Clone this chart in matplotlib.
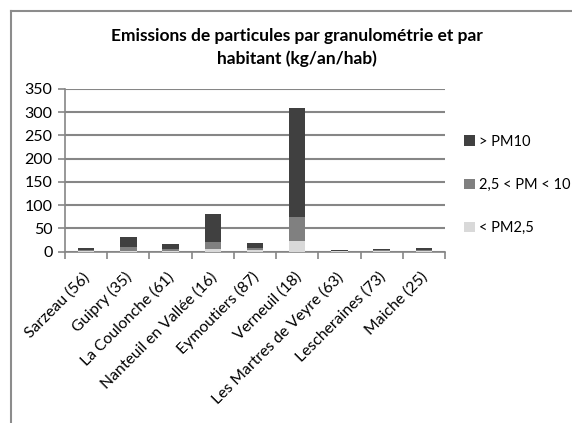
import numpy as np
import matplotlib.pyplot as plt
from matplotlib.lines import Line2D

communes = ['Sarzeau (56)', 'Guipry (35)', 'La Coulonche (61)', 'Nanteuil en Vallée (16)',
            'Eymoutiers (87)', 'Verneuil (18)', 'Les Martres de Veyre (63)',
            'Lescheraines (73)', 'Maiche (25)']
pm25 = [1, 2, 1.5, 5, 3, 23, 0.5, 1, 1.5]          # < PM2,5
pm25_10 = [2, 8, 4, 15, 5, 52, 1, 2, 3]            # 2,5 < PM < 10
pm10 = [6, 22, 10, 62, 11.5, 234, 1.5, 2.5, 2.5]    # > PM10

plt.rcParams['font.family'] = ['Lato', 'DejaVu Sans']

fig = plt.figure(figsize=(5.72, 4.23), dpi=100)
ax = fig.add_axes([0.1136, 0.405, 0.778 - 0.1136, 0.7896 - 0.405])

x = np.arange(len(communes))
w = 0.39
ax.bar(x, pm25, w, color='#d9d9d9', label='< PM2,5', zorder=3)
ax.bar(x, pm25_10, w, bottom=pm25, color='#808080', label='2,5 < PM < 10', zorder=3)
bas = np.array(pm25) + np.array(pm25_10)
ax.bar(x, pm10, w, bottom=bas, color='#404040', label='> PM10', zorder=3)

ax.set_xlim(-0.5, len(communes) - 0.5)
ax.set_ylim(0, 350)
ax.set_yticks(range(0, 351, 50))
ax.yaxis.grid(True, color='#868686', linewidth=1.5, zorder=0)
for s in ['top', 'right']:
    ax.spines[s].set_visible(False)
ax.spines['left'].set_color('#868686')
ax.spines['bottom'].set_color('#868686')
ax.spines['left'].set_linewidth(1.2)
ax.spines['bottom'].set_linewidth(1.2)

# ticks aux bornes des categories, comme Excel
ax.set_xticks(np.arange(-0.5, len(communes), 1))
ax.set_xticklabels([])
ax.tick_params(axis='x', length=5, color='#868686', width=1.2)
ax.tick_params(axis='y', length=5, color='#868686', width=1.2, labelsize=11.5, pad=4)
for i, nom in enumerate(communes):
    ax.text(i + 0.04, -50, nom, rotation=45, rotation_mode='anchor',
            ha='right', va='center', fontsize=11.3)

ax.set_title('Emissions de particules par granulométrie et par\nhabitant (kg/an/hab)',
             fontsize=12.5, fontweight='bold', pad=18, x=0.61, linespacing=1.5)

h, l = ax.get_legend_handles_labels()
fig.legend(h[::-1], l[::-1], loc='center left', bbox_to_anchor=(0.812, 0.563),
           frameon=False, fontsize=10.5, handlelength=0.7, handleheight=0.7,
           handletextpad=0.3, labelspacing=2.0, borderpad=0, borderaxespad=0)

# cadre du graphique
fig.add_artist(Line2D([11 / 572, 11 / 572], [0, 1 - 11 / 423], color='#8c8c8c', lw=1.5))
fig.add_artist(Line2D([11 / 572, 1], [1 - 11 / 423, 1 - 11 / 423], color='#8c8c8c', lw=1.5))

fig.savefig('out.png', dpi=100)
